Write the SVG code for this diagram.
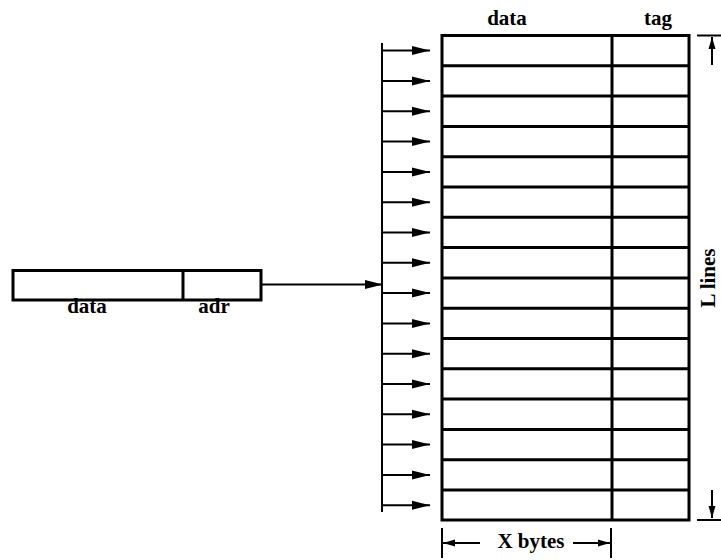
<svg xmlns="http://www.w3.org/2000/svg" width="721" height="560" viewBox="0 0 721 560">
<style>
  .box { fill: #fff; stroke: #000; stroke-width: 3; }
  .rule { stroke: #000; stroke-width: 3; fill: none; }
  .thin { stroke: #000; stroke-width: 2; fill: none; }
  .lbl { font-family: "Liberation Serif", "Times New Roman", serif; font-weight: bold; font-size: 21px; fill: #000; }
</style>
<defs>
  <marker id="ah" markerUnits="userSpaceOnUse" markerWidth="18" markerHeight="10" refX="18" refY="5" orient="auto">
    <path d="M0,0.5 L18,5 L0,9.5 Z" fill="#000"/>
  </marker>
  <marker id="ahs" markerUnits="userSpaceOnUse" markerWidth="12" markerHeight="8" refX="12" refY="4" orient="auto">
    <path d="M0,0.5 L12,4 L0,7.5 Z" fill="#000"/>
  </marker>
</defs>
<rect width="721" height="560" fill="#fff"/>

<g id="register">
  <rect class="box" x="13" y="270.5" width="248" height="29.5"/>
  <line class="rule" x1="183" y1="270.5" x2="183" y2="300"/>
  <text class="lbl" x="87" y="313" text-anchor="middle">data</text>
  <text class="lbl" x="214" y="313" text-anchor="middle">adr</text>
</g>

<g id="cache">
  <rect class="box" x="442" y="35.5" width="247" height="484.5"/>
  <line class="rule" x1="612" y1="35.5" x2="612" y2="520"/>
  <path class="rule" d="M442,65.8H689 M442,96.1H689 M442,126.4H689 M442,156.7H689 M442,187H689 M442,217.3H689 M442,247.6H689 M442,277.9H689 M442,308.2H689 M442,338.5H689 M442,368.8H689 M442,399.1H689 M442,429.4H689 M442,459.7H689 M442,490H689"/>
  <text class="lbl" x="507" y="25" text-anchor="middle">data</text>
  <text class="lbl" x="658" y="25" text-anchor="middle">tag</text>
</g>

<g id="connectors">
  <line class="thin" x1="261" y1="284.5" x2="383" y2="284.5" marker-end="url(#ah)"/>
  <line class="thin" x1="382" y1="43" x2="382" y2="512"/>
  <g class="thin">
    <line x1="382" y1="50.6" x2="430" y2="50.6" marker-end="url(#ah)"/>
    <line x1="382" y1="81" x2="430" y2="81" marker-end="url(#ah)"/>
    <line x1="382" y1="111.3" x2="430" y2="111.3" marker-end="url(#ah)"/>
    <line x1="382" y1="141.6" x2="430" y2="141.6" marker-end="url(#ah)"/>
    <line x1="382" y1="171.9" x2="430" y2="171.9" marker-end="url(#ah)"/>
    <line x1="382" y1="202.2" x2="430" y2="202.2" marker-end="url(#ah)"/>
    <line x1="382" y1="232.5" x2="430" y2="232.5" marker-end="url(#ah)"/>
    <line x1="382" y1="262.8" x2="430" y2="262.8" marker-end="url(#ah)"/>
    <line x1="382" y1="293.1" x2="430" y2="293.1" marker-end="url(#ah)"/>
    <line x1="382" y1="323.4" x2="430" y2="323.4" marker-end="url(#ah)"/>
    <line x1="382" y1="353.7" x2="430" y2="353.7" marker-end="url(#ah)"/>
    <line x1="382" y1="384" x2="430" y2="384" marker-end="url(#ah)"/>
    <line x1="382" y1="414.3" x2="430" y2="414.3" marker-end="url(#ah)"/>
    <line x1="382" y1="444.6" x2="430" y2="444.6" marker-end="url(#ah)"/>
    <line x1="382" y1="474.9" x2="430" y2="474.9" marker-end="url(#ah)"/>
    <line x1="382" y1="505.2" x2="430" y2="505.2" marker-end="url(#ah)"/>
  </g>
</g>

<g id="dimension-lines">
  <line class="thin" x1="697" y1="35.5" x2="721" y2="35.5"/>
  <line class="thin" x1="712" y1="65" x2="712" y2="37" marker-end="url(#ahs)"/>
  <line class="thin" x1="712" y1="490" x2="712" y2="518" marker-end="url(#ahs)"/>
  <line class="thin" x1="697" y1="520" x2="721" y2="520"/>
  <text class="lbl" transform="translate(715,278) rotate(-90)" text-anchor="middle">L lines</text>

  <line class="thin" x1="442" y1="528" x2="442" y2="558"/>
  <line class="thin" x1="611" y1="528" x2="611" y2="558"/>
  <line class="thin" x1="480" y1="543" x2="443" y2="543" marker-end="url(#ahs)"/>
  <line class="thin" x1="573" y1="543" x2="610" y2="543" marker-end="url(#ahs)"/>
  <text class="lbl" x="531" y="548" text-anchor="middle">X bytes</text>
</g>
</svg>
